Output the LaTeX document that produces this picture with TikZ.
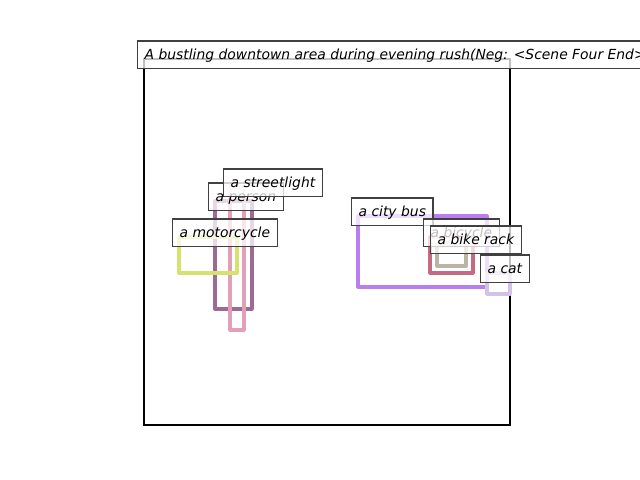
\documentclass[tikz,border=0pt]{standalone}
\usepackage{fontspec}
\setmainfont{DejaVu Sans}
\definecolor{cperson}{RGB}{156,106,148}
\definecolor{cstreet}{RGB}{226,159,181}
\definecolor{cmoto}{RGB}{214,226,110}
\definecolor{cbus}{RGB}{187,126,242}
\definecolor{cbicycle}{RGB}{196,106,130}
\definecolor{crack}{RGB}{187,179,163}
\definecolor{ccat}{RGB}{210,194,230}
\begin{document}
\begin{tikzpicture}[x=0.72pt,y=-0.72pt,
  bbox/.style={draw=#1,line width=2.2pt,line join=round},
  lab/.style={draw=black!75,line width=0.9pt,fill=white,fill opacity=0.75,text opacity=1,
    font=\fontsize{10}{12}\selectfont\itshape,inner xsep=5.04pt,inner ysep=0pt,
    text height=12.9pt,text depth=7pt,anchor=base west}]
\useasboundingbox (0,0) rectangle (640,480);
\clip (0,0) rectangle (640,480);
% frame
\draw[line width=2.05pt] (144,59) rectangle (510,425);
% boxes
\draw[bbox=cperson] (215,201) rectangle (252,309);
\draw[bbox=cstreet] (230,187) rectangle (244,330);
\draw[bbox=cmoto] (179,237) rectangle (237,273);
\draw[bbox=cbus] (358,216) rectangle (487,287);
\draw[bbox=cbicycle] (430,237) rectangle (473,273);
\draw[bbox=crack] (437,244) rectangle (466,266);
\draw[bbox=ccat] (487,273) rectangle (510,294);
% labels
\node[lab] (lmoto) at (172,237) {a motorcycle};
\node[lab] (lperson) at (208,201) {a person};
\node[lab] (lstreet) at (223,187) {a streetlight};
\node[lab] (lbus) at (351,216) {a city bus};
\node[lab] (lbicycle) at (423,237) {a bicycle};
\node[lab] (lrack) at (430,244) {a bike rack};
\node[lab] (lcat) at (480,273) {a cat};
\node[lab] (title) at (137,59) {A bustling downtown area during evening rush(Neg: <Scene Four End>};
\end{tikzpicture}
\end{document}
